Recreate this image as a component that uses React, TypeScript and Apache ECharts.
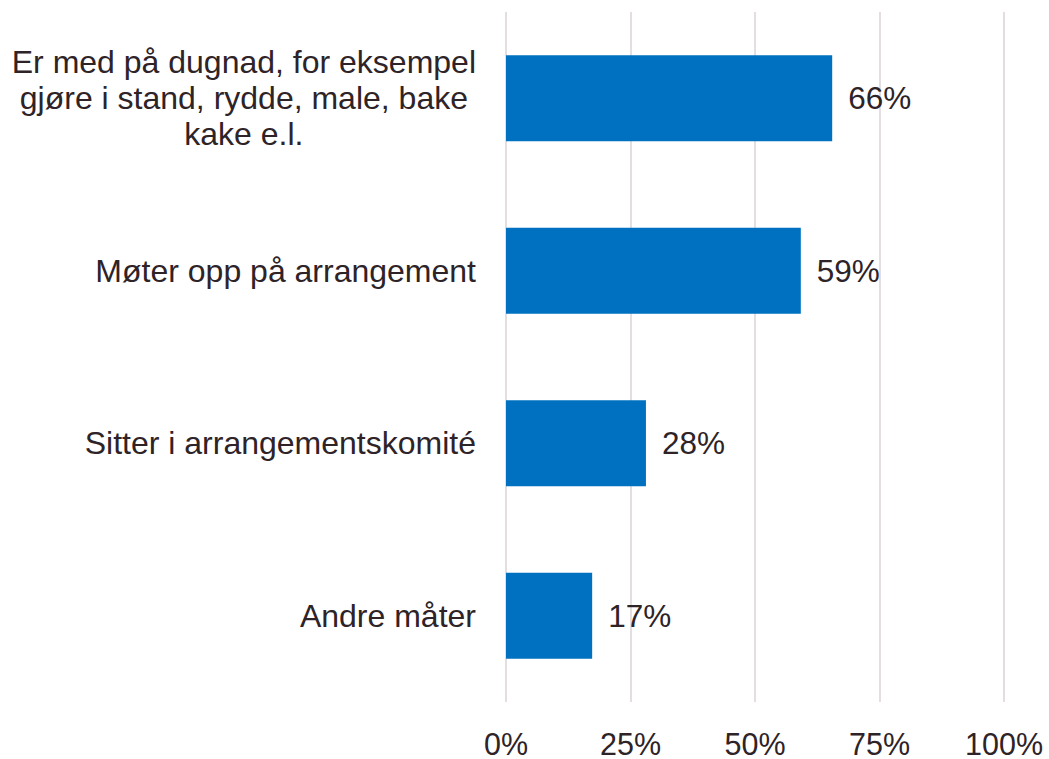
import React, { useEffect, useRef } from "react";
import * as echarts from "echarts";

const categories = [
  "Er med på dugnad, for eksempel\ngjøre i stand, rydde, male, bake\nkake e.l.",
  "Møter opp på arrangement",
  "Sitter i arrangementskomité",
  "Andre måter",
];
const values = [65.5, 59.2, 28.1, 17.3];
const xTicks = [0, 25, 50, 75, 100];

const TEXT = "#2e2327";
const FONT = "Liberation Sans, Arial, sans-serif";

export default function App() {
  const ref = useRef<HTMLDivElement>(null);
  useEffect(() => {
    const chart = echarts.init(ref.current!, undefined, { renderer: "svg" });
    chart.setOption({
      animation: false,
      backgroundColor: "#ffffff",
      grid: { left: 506, right: 45, top: 12, bottom: 53, containLabel: false },
      xAxis: {
        type: "value",
        min: xTicks[0],
        max: xTicks[xTicks.length - 1],
        interval: 25,
        axisLine: { show: false },
        axisTick: { show: false },
        splitLine: { show: true, lineStyle: { color: "#dcd3d7", width: 1.5 } },
        axisLabel: {
          color: TEXT,
          fontSize: 30.5,
          fontFamily: FONT,
          margin: 26,
          formatter: (v: number) => `${v}%`,
        },
      },
      yAxis: {
        type: "category",
        data: categories,
        inverse: true,
        axisLine: { show: false },
        axisTick: { show: false },
        axisLabel: {
          color: TEXT,
          fontSize: 32,
          fontFamily: FONT,
          margin: 30,
          align: "right",
          lineHeight: 36,
          formatter: (v: string) =>
            v
              .split("\n")
              .map((l) => `{c|${l}}`)
              .join("\n"),
          rich: {
            c: {
              align: "center",
              color: TEXT,
              fontSize: 32,
              fontFamily: FONT,
              lineHeight: 36,
            },
          },
        },
      },
      series: [
        {
          type: "bar",
          data: values,
          barWidth: 86,
          itemStyle: { color: "#0070C0" },
          label: {
            show: true,
            position: "right",
            distance: 16,
            color: TEXT,
            fontSize: 31.5,
            fontFamily: FONT,
            formatter: (p: any) => `${Math.round(p.value)}%`,
          },
        },
      ],
    });
    return () => chart.dispose();
  }, []);
  return <div ref={ref} style={{ width: 1049, height: 759, position: "absolute", left: 0, top: 0 }} />;
}
